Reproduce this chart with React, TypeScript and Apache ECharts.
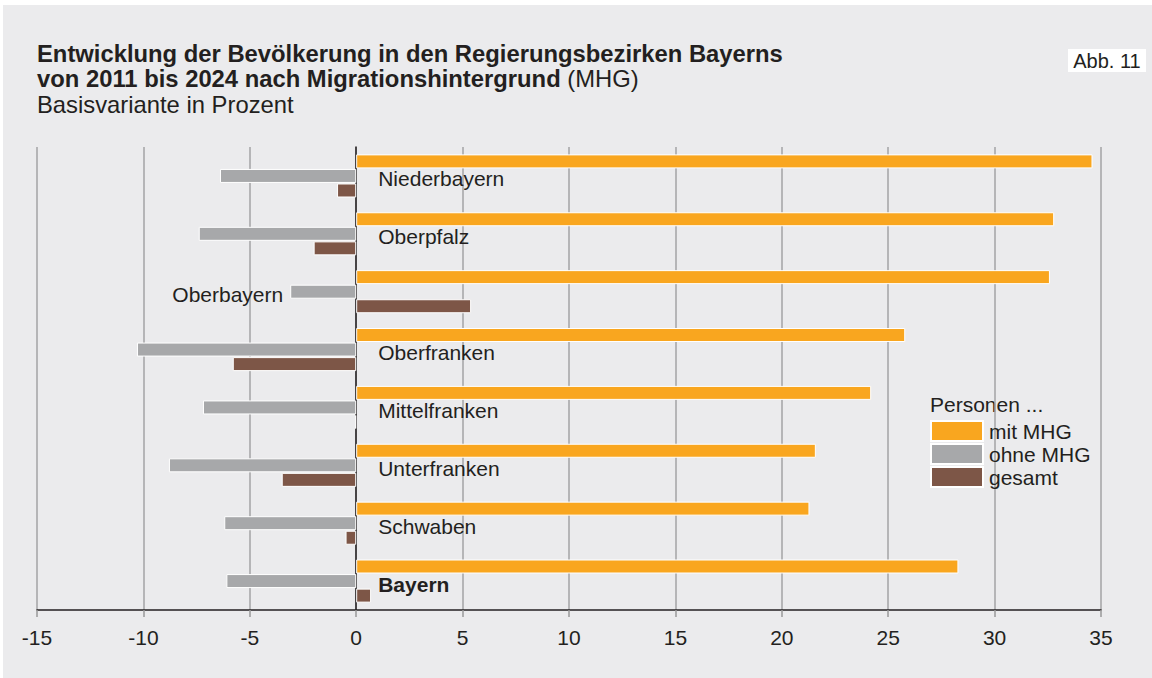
import React, { useEffect, useRef } from "react";
import * as echarts from "echarts";

const regions = ["Niederbayern", "Oberpfalz", "Oberbayern", "Oberfranken", "Mittelfranken", "Unterfranken", "Schwaben", "Bayern"];
const mitMHG = [34.6, 32.8, 32.6, 25.8, 24.2, 21.6, 21.3, 28.3];
const ohneMHG = [-6.4, -7.4, -3.1, -10.3, -7.2, -8.8, -6.2, -6.1];
const gesamt = [-0.9, -2.0, 5.4, -5.8, -0.05, -3.5, -0.5, 0.7];
const xTicks = [-15, -10, -5, 0, 5, 10, 15, 20, 25, 30, 35];

const FONT = "'Liberation Sans', Arial, Helvetica, sans-serif";
const TXT = "#231f20";

export default function App() {
  const ref = useRef<HTMLDivElement>(null);
  useEffect(() => {
    document.body.style.margin = "0";
    const chart = echarts.init(ref.current!, null, { renderer: "svg" });
    const barBase = {
      type: "bar" as const,
      barWidth: 14,
      barGap: "4%",
      itemStyle: { borderColor: "#ffffff", borderWidth: 1 },
    };
    chart.setOption({
      animation: false,
      backgroundColor: "#ffffff",
      textStyle: { fontFamily: FONT },
      graphic: [
        { type: "rect", shape: { x: 3, y: 5, width: 1149, height: 673 }, style: { fill: "#ebebed" }, z: -10 },
        { type: "rect", shape: { x: 1068, y: 49, width: 78, height: 23 }, style: { fill: "#ffffff" }, z: 10 },
        { type: "text", x: 1107, y: 61, style: { text: "Abb. 11", font: `20px ${FONT}`, fill: TXT, align: "center", verticalAlign: "middle" }, z: 11 },
        { type: "text", x: 37, y: 53, style: { text: "Entwicklung der Bevölkerung in den Regierungsbezirken Bayerns", font: `bold 23.8px ${FONT}`, fill: TXT, verticalAlign: "middle" } },
        {
          type: "text", x: 37, y: 78,
          style: {
            text: "{b|von 2011 bis 2024 nach Migrationshintergrund}{n| (MHG)}",
            fill: TXT, verticalAlign: "middle",
            rich: { b: { font: `bold 23.8px ${FONT}`, fill: TXT }, n: { font: `23.8px ${FONT}`, fill: TXT } },
          },
        },
        { type: "text", x: 37, y: 104, style: { text: "Basisvariante in Prozent", font: `23.8px ${FONT}`, fill: TXT, verticalAlign: "middle" } },
        { type: "text", x: 930, y: 404, style: { text: "Personen ...", font: `21px ${FONT}`, fill: TXT, verticalAlign: "middle" } },
      ],
      legend: {
        orient: "vertical",
        left: 930,
        top: 420,
        itemWidth: 52,
        itemHeight: 20,
        itemGap: 1,
        icon: "rect",
        padding: 0,
        textStyle: { fontSize: 21, lineHeight: 20, color: TXT, fontFamily: FONT, padding: [0, 0, 0, 1] },
        data: ["mit MHG", "ohne MHG", "gesamt"],
        selectedMode: false,
      },
      grid: { left: 37, right: 51, top: 147, bottom: 68, containLabel: false },
      xAxis: {
        type: "value",
        min: -15,
        max: 35,
        interval: 5,
        axisLine: { show: true, onZero: false, lineStyle: { color: "#231f20", width: 1.5 } },
        axisTick: { show: true, length: 7, lineStyle: { color: "#999999", width: 1.5 } },
        axisLabel: { fontSize: 21, color: TXT, fontFamily: FONT, margin: 17 },
        splitLine: { show: true, lineStyle: { color: "#a3a3a5", width: 1.5 } },
        data: xTicks,
      },
      yAxis: {
        type: "category",
        inverse: true,
        data: regions,
        axisLine: { show: true, onZero: true, lineStyle: { color: "#231f20", width: 1.5 } },
        axisTick: { show: false },
        axisLabel: { show: false },
        splitLine: { show: false },
      },
      series: [
        { ...barBase, name: "mit MHG", data: mitMHG, itemStyle: { ...barBase.itemStyle, color: "#f9a61f" } },
        {
          ...barBase,
          name: "ohne MHG",
          itemStyle: { ...barBase.itemStyle, color: "#a7a8aa" },
          label: {
            show: true,
            position: "right",
            distance: 22,
            offset: [0, 3],
            formatter: (p: any) => regions[p.dataIndex],
            fontSize: 21,
            color: TXT,
            fontFamily: FONT,
          },
          data: ohneMHG.map((v, i) => {
            if (regions[i] === "Oberbayern") return { value: v, label: { position: "left", distance: 7 } };
            if (regions[i] === "Bayern") return { value: v, label: { fontWeight: "bold" } };
            return v;
          }),
        },
        { ...barBase, name: "gesamt", data: gesamt, itemStyle: { ...barBase.itemStyle, color: "#7d5647" } },
      ],
    });
    return () => chart.dispose();
  }, []);
  return <div ref={ref} style={{ position: "absolute", left: 0, top: 0, width: 1152, height: 678 }} />;
}
